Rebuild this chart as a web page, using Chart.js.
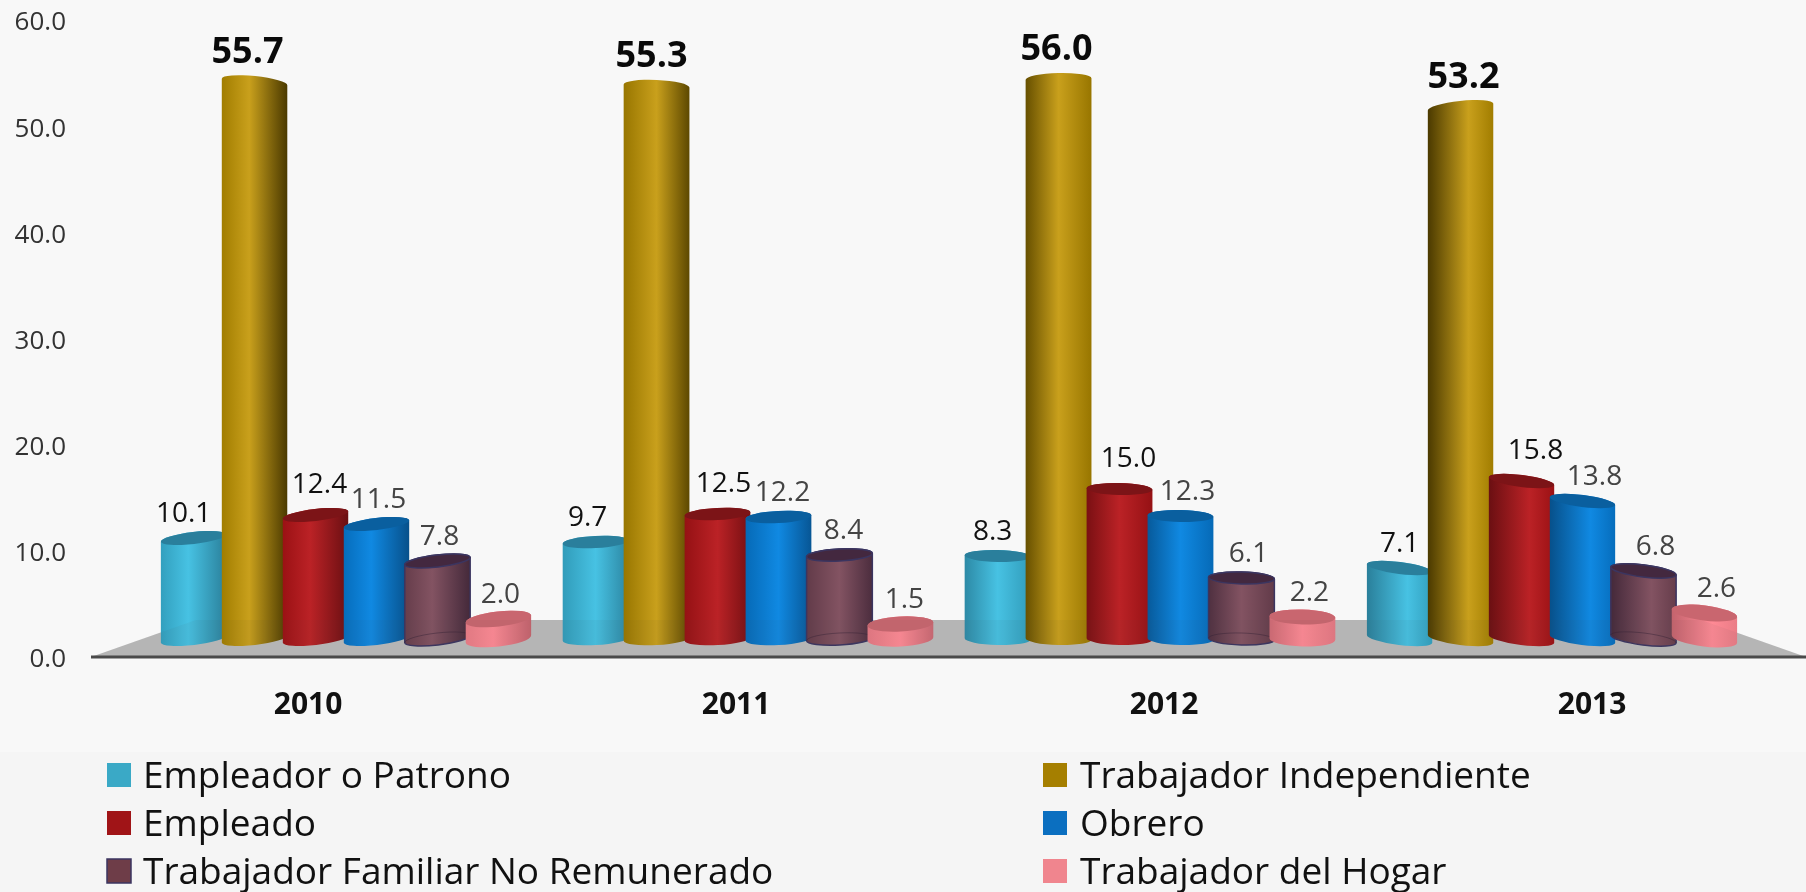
<!DOCTYPE html>
<html><head><meta charset="utf-8">
<style>
html,body{margin:0;padding:0;width:1806px;height:892px;overflow:hidden;background:linear-gradient(#f8f8f8 0,#f8f8f8 752px,#f5f5f5 752px,#f5f5f5 892px)}
canvas{display:block}
</style>
<script src="https://cdn.jsdelivr.net/npm/chart.js@4"></script>
</head><body>
<canvas id="c" width="1806" height="892"></canvas>
<script>
const categories = ['2010','2011','2012','2013'];
const seriesNames = ['Empleador o Patrono','Trabajador Independiente','Empleado','Obrero','Trabajador Familiar No Remunerado','Trabajador del Hogar'];
const empleador = [10.1,9.7,8.3,7.1];
const independiente = [55.7,55.3,56.0,53.2];
const empleado = [12.4,12.5,15.0,15.8];
const obrero = [11.5,12.2,12.3,13.8];
const familiar = [7.8,8.4,6.1,6.8];
const hogar = [2.0,1.5,2.2,2.6];
const allValues = [empleador,independiente,empleado,obrero,familiar,hogar];
const swatch = ['#3aa9c6','#a57f00','#a01417','#0b6fc0','#6e3d48','#f0858e'];
const FONT = '"Open Sans", sans-serif';

const shades = [
 ['#47c2e3','#33a3c2','#2a7f9a','#2a7f9c'],
 ['#c9a01c','#ab8500','#4a3900',null],
 ['#bb2226','#a01114','#6a0f12','#7c1417'],
 ['#1089e2','#0670c2','#07508a','#0a5f9f'],
 ['#835362','#6a3f4d','#44293a','#43283f'],
 ['#ff8a95','#ee7f89','#c4636d','#c9666f']
];
const tilt = [-6.5,-3,1.5,7];
const labelDrift = [0,2,5,10];
const profile = [[0.1,0.42,1],[0.2,0.5,0.8],[0.7,0.5,0.2],[1,0.62,0.1]];

function mix(a,b,t){
  const p=h=>[1,3,5].map(i=>parseInt(h.substr(i,2),16));
  const A=p(a),B=p(b);
  return 'rgb('+A.map((v,i)=>Math.round(v+(B[i]-v)*t)).join(',')+')';
}

const cylinders = {
  id:'cylinders',
  beforeDatasetsDraw(chart){
    const {ctx}=chart, y0=chart.scales.y.getPixelForValue(0), top=chart.scales.y1.getPixelForValue(1.9);
    ctx.save();
    ctx.fillStyle='#bcbcbc';
    ctx.beginPath();ctx.moveTo(91,y0);ctx.lineTo(196,top);ctx.lineTo(1701,top);ctx.lineTo(1806,y0);ctx.closePath();ctx.fill();
    ctx.restore();
  },
  afterDatasetsDraw(chart){
    const {ctx}=chart;
    const y0=chart.scales.y.getPixelForValue(0), top=chart.scales.y1.getPixelForValue(1.9);
    ctx.save();
    chart.data.datasets.forEach((ds,i)=>{
      const meta=chart.getDatasetMeta(i), s=shades[i];
      meta.data.forEach((bar,j)=>{
        const rx=bar.width*1.08/2, ry=i===5?7.5:6, [l,hp,r]=profile[j];
        const thTop=(i===1?-tilt[j]*0.9:tilt[j])*Math.PI/180, thBase=tilt[j]*Math.PI/180;
        const g=ctx.createLinearGradient(bar.x-rx,0,bar.x+rx,0);
        g.addColorStop(0,mix(s[1],s[2],l));
        g.addColorStop(hp,s[0]);
        g.addColorStop(1,mix(s[1],s[2],r));
        ctx.beginPath();
        ctx.ellipse(bar.x,bar.base,rx,ry,thBase,0,Math.PI,false);
        ctx.ellipse(bar.x,bar.y,rx,ry,thTop,Math.PI,2*Math.PI,false);
        ctx.closePath();
        ctx.fillStyle=g;ctx.fill();
        if(i===4){ctx.strokeStyle='#3b3560';ctx.lineWidth=1.5;ctx.stroke();
          ctx.beginPath();ctx.ellipse(bar.x,bar.base,rx,ry,thBase,Math.PI,2*Math.PI,false);ctx.strokeStyle='rgba(50,30,50,.45)';ctx.lineWidth=1;ctx.stroke();}
        if(s[3]){
          ctx.beginPath();ctx.ellipse(bar.x,bar.y,rx,ry,thTop,0,2*Math.PI);
          ctx.fillStyle=s[3];ctx.fill();
          if(i===4){ctx.strokeStyle='#3b3560';ctx.lineWidth=1.5;ctx.stroke();}
        }
      });
    });
    ctx.fillStyle='rgba(90,90,90,.06)';
    ctx.beginPath();ctx.moveTo(91,y0);ctx.lineTo(196,top);ctx.lineTo(1701,top);ctx.lineTo(1806,y0);ctx.closePath();ctx.fill();
    ctx.strokeStyle='#4a4a4a';ctx.lineWidth=3;
    ctx.beginPath();ctx.moveTo(91,y0);ctx.lineTo(1806,y0);ctx.stroke();
    ctx.textAlign='center';ctx.textBaseline='middle';
    chart.data.datasets.forEach((ds,i)=>{
      chart.getDatasetMeta(i).data.forEach((bar,j)=>{
        const big=i===1, dark=i<3;
        ctx.font=(big?'bold 36px ':'28px ')+FONT;
        ctx.fillStyle=big?'#0a0a0a':(dark?'#111':'#444');
        const dx=(i===0?-10:(i===1?-7:(i===2?4:2)))+labelDrift[j];
        const dy=big?-29:(i===2?-30:-24);
        ctx.fillText(ds.data[j].toFixed(1),bar.x+dx,bar.y+dy);
      });
    });
    const rows=[775,823,871], cols=[[107,143],[1043,1080]];
    ctx.textAlign='left';ctx.font='37px '+FONT;
    seriesNames.forEach((n,i)=>{
      const c=cols[i%2], y=rows[Math.floor(i/2)];
      ctx.fillStyle=swatch[i];ctx.fillRect(c[0],y-12,24,24);
      if(i===4){ctx.strokeStyle='#3b3560';ctx.lineWidth=1.5;ctx.strokeRect(c[0],y-12,24,24);}
      ctx.fillStyle='#111';ctx.fillText(n,c[1],y+2);
    });
    ctx.restore();
  }
};

new Chart(document.getElementById('c'),{
  type:'bar',
  data:{labels:categories,datasets:seriesNames.map((n,i)=>({
    label:n,data:allValues[i],backgroundColor:swatch[i],xAxisID:'x',yAxisID:'y1',
    barPercentage:1,categoryPercentage:0.91,borderWidth:0,inflateAmount:-5
  }))},
  plugins:[cylinders],
  options:{
    responsive:false,animation:false,
    layout:{padding:{top:20,right:53,left:0,bottom:0}},
    plugins:{legend:{display:false},tooltip:{enabled:false},title:{display:false}},
    scales:{
      x:{type:'category',display:false,offset:true,grid:{display:false}},
      yearAxis:{type:'linear',position:'bottom',offset:false,min:-0.381,max:3.376,
        grid:{display:false,drawTicks:false},border:{display:false},
        afterBuildTicks(s){s.ticks=categories.map((_,i)=>({value:i}));},
        afterFit(s){s.height=235;s.paddingLeft=0;s.paddingRight=0;},
        ticks:{autoSkip:false,maxRotation:0,padding:30,color:'#111',font:{family:FONT,size:30,weight:'bold'},callback:v=>categories[v]}},
      y:{type:'linear',position:'left',min:0,max:60,
        grid:{display:false,drawTicks:false},border:{display:false},
        afterFit(s){s.width=145;s.paddingTop=0;s.paddingBottom=0;},
        ticks:{stepSize:10,padding:79,labelOffset:3,color:'#333',font:{family:FONT,size:26},callback:v=>v.toFixed(1)}},
      y1:{type:'linear',display:false,min:-1.8,max:61.9}
    }
  }
});
</script>
</body></html>
